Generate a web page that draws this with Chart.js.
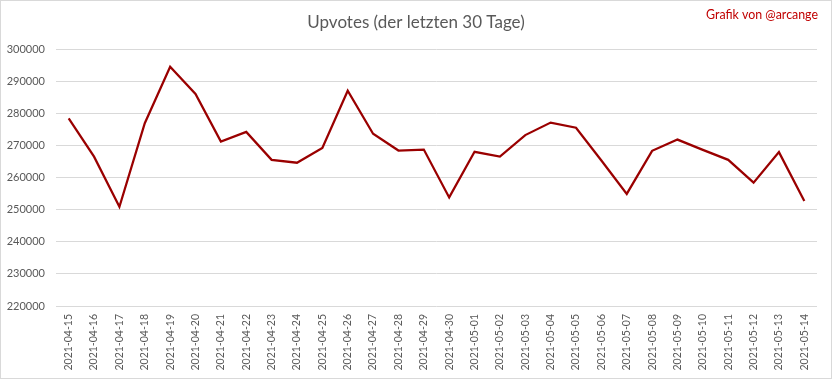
<!DOCTYPE html>
<html>
<head>
<meta charset="utf-8">
<script src="https://cdn.jsdelivr.net/npm/chart.js@4/dist/chart.umd.min.js"></script>
<style>
  html, body { margin: 0; padding: 0; background: #fff; }
  #wrap { width: 832px; height: 379px; }
</style>
</head>
<body>
<div id="wrap"><canvas id="c" width="832" height="379"></canvas></div>
<script>
const categories = [
  "2021-04-15","2021-04-16","2021-04-17","2021-04-18","2021-04-19","2021-04-20",
  "2021-04-21","2021-04-22","2021-04-23","2021-04-24","2021-04-25","2021-04-26",
  "2021-04-27","2021-04-28","2021-04-29","2021-04-30","2021-05-01","2021-05-02",
  "2021-05-03","2021-05-04","2021-05-05","2021-05-06","2021-05-07","2021-05-08",
  "2021-05-09","2021-05-10","2021-05-11","2021-05-12","2021-05-13","2021-05-14"
];
const upvotes = [
  278400, 266500, 250900, 276900, 294500, 286000,
  271200, 274200, 265500, 264600, 269200, 287000,
  273600, 268400, 268700, 253800, 268000, 266500,
  273200, 277100, 275500, 265300, 254900, 268300,
  271800, 268600, 265500, 258400, 267900, 252700
];
const yTicks = [220000, 230000, 240000, 250000, 260000, 270000, 280000, 290000, 300000];
const titleText = "Upvotes (der letzten 30 Tage)";
const creditText = "Grafik von @arcange";

const FONT = "Lato, 'Open Sans', sans-serif";

const frame = {
  id: 'frame',
  beforeDraw(chart) {
    const ctx = chart.ctx;
    ctx.save();
    ctx.fillStyle = '#ffffff';
    ctx.fillRect(0, 0, chart.width, chart.height);
    ctx.restore();
  },
  afterDraw(chart) {
    const ctx = chart.ctx;
    ctx.save();
    ctx.strokeStyle = '#d9d9d9';
    ctx.lineWidth = 1;
    ctx.strokeRect(0.5, 0.5, chart.width - 1, chart.height - 1);
    ctx.fillStyle = '#c00000';
    ctx.font = "12.4px " + FONT;
    ctx.textAlign = 'right';
    ctx.textBaseline = 'middle';
    ctx.fillText(creditText, 818, 15);
    ctx.restore();
  }
};

new Chart(document.getElementById('c'), {
  type: 'line',
  data: {
    labels: categories,
    datasets: [{
      data: upvotes,
      borderColor: '#9a0000',
      borderWidth: 2.25,
      pointRadius: 0,
      pointHoverRadius: 0,
      tension: 0,
      fill: false
    }]
  },
  options: {
    responsive: false,
    animation: false,
    devicePixelRatio: 1,
    layout: { padding: { left: 0, right: 0, top: 0, bottom: 0 } },
    plugins: {
      legend: { display: false },
      tooltip: { enabled: false },
      title: {
        display: true,
        text: titleText,
        color: '#595959',
        font: { family: FONT, size: 17, weight: 'normal', lineHeight: 1.2 },
        padding: { top: 12, bottom: 16.6 }
      }
    },
    scales: {
      x: {
        offset: true,
        grid: { display: false, drawTicks: false },
        border: { display: false },
        ticks: {
          color: '#595959',
          font: { family: FONT, size: 10.5 },
          minRotation: 90,
          maxRotation: 90,
          autoSkip: false,
          padding: 8
        },
        afterFit(scale) { scale.height = 73; }
      },
      y: {
        min: 220000,
        max: 300000,
        afterBuildTicks(scale) { scale.ticks = yTicks.map(v => ({ value: v })); },
        grid: { color: '#d9d9d9', lineWidth: 1, drawTicks: false },
        border: { display: false },
        ticks: {
          color: '#595959',
          font: { family: FONT, size: 11 },
          padding: 11,
          callback: (v) => String(v)
        },
        afterFit(scale) { scale.width = 56; }
      },
      yRight: {
        position: 'right',
        display: true,
        grid: { display: false, drawTicks: false },
        border: { display: false },
        ticks: { display: false },
        afterFit(scale) { scale.width = 15; }
      }
    }
  },
  plugins: [frame]
});
</script>
</body>
</html>
